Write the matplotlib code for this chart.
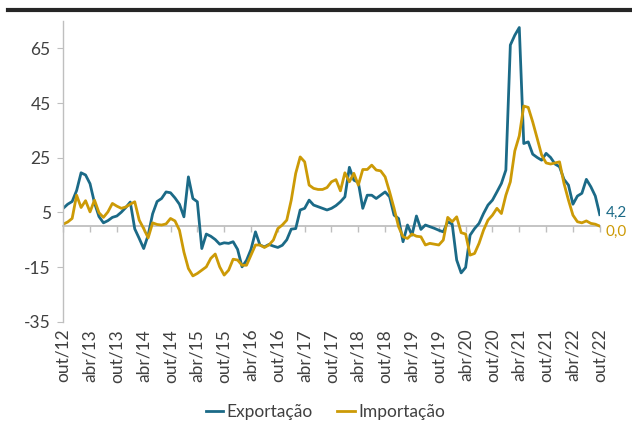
import matplotlib
matplotlib.use("Agg")
import matplotlib.pyplot as plt
from matplotlib.lines import Line2D

plt.rcParams['font.family'] = ['Lato', 'DejaVu Sans']
plt.rcParams['axes.unicode_minus'] = False

# Monthly data, out/12 .. out/22 (121 months)
exportacao = [
    6.5, 8, 9, 13, 19.5, 18.7, 15.5, 8.5, 3.5, 1.2,
    2, 3.2, 3.7, 5.1, 6.8, 8.8, -1, -4.5, -8.2, -3.3,
    4.5, 9, 10.1, 12.5, 12.2, 10.3, 8, 3.4, 18, 10.1,
    8.9, -8.2, -2.9, -3.7, -4.9, -6.6, -6.1, -6.3, -5.7, -8.5,
    -14.9, -12.5, -8.5, -2.1, -6.9, -7.6, -6.7, -7.3, -7.8, -7.0,
    -5.0, -1.1, -0.9, 5.9, 6.5, 9.5, 7.7, 7.1, 6.5, 5.9,
    6.5, 7.5, 8.9, 10.7, 21.5, 16.8, 16.0, 6.5, 11.3, 11.3,
    10.1, 11.3, 12.5, 10.7, 4.0, 2.8, -5.7, 0.4, -3.3, 3.7,
    -1.2, 0.4, -0.2, -0.8, -1.5, -2.1, 1.6, 0.7, -12.4, -17.1,
    -15.1, -3.3, -0.9, 1.0, 4.6, 7.7, 9.5, 12.5, 15.6, 20.5,
    66.2, 69.8, 72.6, 30.2, 30.8, 26.3, 25.1, 24.1, 26.6, 25.1,
    22.7, 21.7, 17.1, 15.0, 8.0, 11.0, 12.0, 17.1, 14.4, 11.0,
    4.2,
]
importacao = [
    0.7, 1.5, 2.8, 11.3, 6.8, 9.3, 5.2, 9.5, 4.9, 3.2,
    5.2, 8.3, 7.3, 6.5, 7.0, 8.0, 8.9, 2.2, -0.9, -4.3,
    1.2, 0.6, 0.4, 0.8, 2.8, 1.9, -1.5, -9.5, -15.5, -18.2,
    -17.3, -16.1, -14.9, -11.8, -10.2, -14.9, -17.9, -16.1, -12.1, -12.4,
    -14.3, -14.3, -10.6, -6.9, -6.9, -7.8, -6.9, -5.1, -0.9, 0.4,
    2.2, 9.5, 19.3, 25.3, 23.5, 15.0, 13.8, 13.4, 13.4, 14.1,
    16.2, 17.0, 12.9, 19.5, 16.2, 19.3, 15.0, 20.7, 20.7, 22.3,
    20.5, 20.2, 18.0, 12.5, 6.5, -0.2, -3.9, -4.5, -2.9, -3.7,
    -3.9, -6.9, -6.3, -6.6, -6.9, -5.1, 3.2, 1.6, 3.4, -2.4,
    -2.9, -10.6, -10.0, -6.3, -1.5, 2.2, 4.0, 6.5, 4.6, 11.3,
    16.2, 27.5, 33.0, 43.9, 43.4, 38.1, 32.1, 26.0, 23.1, 22.7,
    23.1, 23.5, 15.6, 9.5, 4.0, 1.6, 1.2, 1.9, 1.0, 0.7,
    0.0,
]
tick_labels = ['out/12', 'abr/13', 'out/13', 'abr/14', 'out/14', 'abr/15', 'out/15',
               'abr/16', 'out/16', 'abr/17', 'out/17', 'abr/18', 'out/18', 'abr/19',
               'out/19', 'abr/20', 'out/20', 'abr/21', 'out/21', 'abr/22', 'out/22']
y_ticks = [-35, -15, 5, 25, 45, 65]
end_labels = ['4,2', '0,0']
series_names = ['Exportação', 'Importação']

blue = '#1B6A87'
gold = '#CC9A06'
grey = '#BFBFBF'
txt = '#404040'
fs = 12.5

fig = plt.figure(figsize=(6.32, 4.28), dpi=100)
ax = fig.add_axes([0.1, 0.248, 0.849, 0.703])

x = list(range(len(exportacao)))
ax.plot(x, exportacao, color=blue, lw=2.0, label=series_names[0], solid_joinstyle='round')
ax.plot(x, importacao, color=gold, lw=2.0, label=series_names[1], solid_joinstyle='round')

ax.set_xlim(0, len(x) - 1)
ax.set_ylim(-35, 75)
ax.set_yticks(y_ticks)
ax.tick_params(axis='y', direction='out', length=4, color=grey, labelsize=fs,
               labelcolor=txt, pad=5)

tick_pos = list(range(0, len(x), 6))
ax.set_xticks(tick_pos)
ax.set_xticklabels(tick_labels, rotation=90)
ax.tick_params(axis='x', length=0, labelsize=fs, labelcolor=txt, pad=5)

for s in ['top', 'right', 'bottom']:
    ax.spines[s].set_visible(False)
ax.spines['left'].set_color(grey)
ax.spines['left'].set_linewidth(1.0)

# zero line with ticks
try:
    sec = ax.secondary_xaxis(0, transform=ax.transData)
except TypeError:
    sec = ax.secondary_xaxis(35 / 110)
sec.set_xticks(tick_pos)
sec.set_xticklabels([''] * len(tick_pos))
sec.tick_params(axis='x', direction='out', length=4, color=grey, width=1)
sec.spines['bottom'].set_color(grey)
sec.spines['bottom'].set_linewidth(1.3)
for s in ['top', 'left', 'right']:
    if s in sec.spines:
        sec.spines[s].set_visible(False)

# end labels
ax.annotate(end_labels[0], xy=(x[-1], exportacao[-1]), xytext=(4, 1),
            textcoords='offset points', color=blue, fontsize=11,
            va='center', ha='left', annotation_clip=False)
ax.annotate(end_labels[1], xy=(x[-1], importacao[-1]), xytext=(4, -4.5),
            textcoords='offset points', color=gold, fontsize=11,
            va='center', ha='left', annotation_clip=False)

# header rule
fig.add_artist(Line2D([0.013, 1.0], [0.977, 0.977], transform=fig.transFigure,
                      color='#262626', lw=3))

leg = fig.legend(loc='center', bbox_to_anchor=(0.515, 0.038), ncol=2, frameon=False,
                 handlelength=1.0, handletextpad=0.2, columnspacing=1.4,
                 fontsize=fs)
for t in leg.get_texts():
    t.set_color(txt)

fig.savefig('out.png', dpi=100)
